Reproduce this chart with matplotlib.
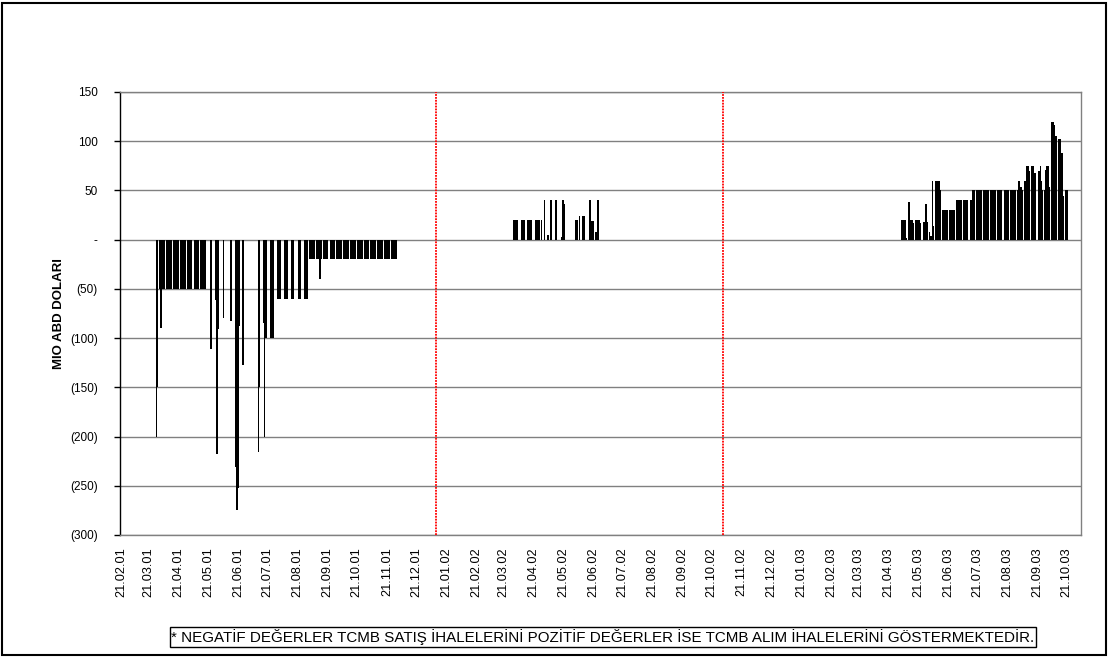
import pandas as pd
import matplotlib
matplotlib.use("Agg")
import matplotlib.pyplot as plt
import matplotlib.dates as mdates
from matplotlib.ticker import FuncFormatter, MultipleLocator
from matplotlib.patches import Rectangle

plt.rcParams['font.family'] = ['Liberation Sans', 'DejaVu Sans']

# Gunluk ihale tutarlari (mio ABD dolari), her satir bir hafta: Pzt..Cum
satis_2001_baslangic = "2001-03-26"
satis_2001 = [
    [0, 0, 0, -200, -150],
    [-50, -90, -50, -50, -50],
    [-50, -50, -50, -50, -50],
    [-50, -50, -50, -50, -50],
    [-50, -50, -50, -50, -50],
    [-50, -50, -50, -50, -50],
    [-50, -50, -50, -50, -50],
    [-50, -50, -50, -50, -50],
    [0, 0, 0, -111, 0],
    [0, -61, -218, -91, 0],
    [0, 0, -80, 0, 0],
    [0, 0, 0, -83, 0],
    [0, -231, -275, -252, -88],
    [0, -127, 0, 0, 0],
    [0, 0, 0, 0, 0],
    [0, 0, 0, -216, -150],
    [0, -85, -200, -100, -100],
    [0, 0, -100, -100, -100],
    [0, 0, -60, -60, -60],
    [0, 0, -60, -60, -60],
    [0, 0, -60, -60, -60],
    [0, 0, -60, -60, -60],
    [0, 0, -60, -60, -60],
    [-20, -20, -20, -20, -20],
    [-20, -20, -20, -40, -20],
    [-20, -20, -20, -20, -20],
    [-20, -20, -20, -20, -20],
    [-20, -20, -20, -20, -20],
    [-20, -20, -20, -20, -20],
    [-20, -20, -20, -20, -20],
    [-20, -20, -20, -20, -20],
    [-20, -20, -20, -20, -20],
    [-20, -20, -20, -20, -20],
    [-20, -20, -20, -20, -20],
    [-20, -20, -20, -20, -20],
    [-20, -20, -20, -20, -20],
]

alim_2002_baslangic = "2002-04-01"
alim_2002 = [
    [20, 20, 20, 20, 0],
    [0, 20, 20, 20, 0],
    [20, 0, 20, 20, 0],
    [0, 20, 20, 20, 20],
    [20, 0, 0, 40, 0],
    [5, 0, 0, 40, 0],
    [0, 40, 0, 0, 0],
    [3, 40, 36, 0, 0],
    [0, 0, 0, 0, 0],
    [20, 20, 20, 0, 24],
    [17, 24, 24, 0, 0],
    [0, 40, 0, 19, 19],
    [8, 0, 40, 0, 0],
]

alim_2003_baslangic = "2003-05-05"
alim_2003 = [
    [20, 20, 20, 20, 2],
    [38, 20, 20, 20, 17],
    [20, 20, 20, 20, 17],
    [0, 18, 18, 36, 18],
    [8, 4, 4, 60, 14],
    [60, 60, 0, 60, 50],
    [30, 30, 30, 30, 30],
    [30, 30, 30, 30, 30],
    [40, 40, 40, 40, 40],
    [40, 40, 40, 40, 40],
    [40, 40, 40, 50, 50],
    [50, 50, 50, 50, 50],
    [50, 50, 50, 50, 50],
    [50, 50, 50, 50, 50],
    [50, 50, 50, 50, 50],
    [50, 50, 50, 50, 50],
    [50, 50, 50, 50, 50],
    [50, 60, 54, 54, 50],
    [60, 60, 75, 75, 70],
    [75, 75, 75, 68, 68],
    [70, 70, 75, 60, 50],
    [50, 71, 75, 75, 53],
    [120, 120, 116, 105, 105],
    [102, 102, 88, 88, 44],
    [50, 50, 0, 0, 0],
]

ayrac_tarihleri = ["2002-01-10", "2002-11-02"]
not_metni = ("* NEGATİF DEĞERLER TCMB SATIŞ İHALELERİNİ POZİTİF DEĞERLER "
             "İSE TCMB ALIM İHALELERİNİ GÖSTERMEKTEDİR.")


def haftalik_seri(baslangic, haftalar):
    # haftalik tablolari tarih/deger listesine cevir
    bas = pd.Timestamp(baslangic)
    tarih, deger = [], []
    for i, hafta in enumerate(haftalar):
        for j, v in enumerate(hafta):
            if v != 0:
                tarih.append(bas + pd.Timedelta(days=7 * i + j))
                deger.append(v)
    return tarih, deger


def y_etiket(v, pos):
    if abs(v) < 1e-9:
        return "-"
    if v < 0:
        return f"({-v:.0f})"
    return f"{v:.0f}"


fig = plt.figure(figsize=(11.09, 6.57), dpi=100)
ax = fig.add_axes([120 / 1109, 1 - 535 / 657, 961 / 1109, 443 / 657])

for bas, haftalar in [(satis_2001_baslangic, satis_2001),
                      (alim_2002_baslangic, alim_2002),
                      (alim_2003_baslangic, alim_2003)]:
    t, d = haftalik_seri(bas, haftalar)
    ax.bar(t, d, width=1.8, color="black", linewidth=0, zorder=3)

for t in ayrac_tarihleri:
    ax.axvline(pd.Timestamp(t), color="red", lw=1.3, ls=(0, (1, 0.6)), zorder=4)

ax.set_ylim(-300, 150)
ax.set_xlim(pd.Timestamp("2001-02-19 12:00"), pd.Timestamp("2003-11-04 18:00"))

ax.yaxis.set_major_locator(MultipleLocator(50))
ax.yaxis.set_major_formatter(FuncFormatter(y_etiket))
ax.yaxis.grid(True, color="#808080", lw=1, zorder=1)

ax.xaxis.set_major_locator(mdates.MonthLocator(bymonthday=21))
ax.xaxis.set_major_formatter(mdates.DateFormatter("%d.%m.%y"))
plt.setp(ax.get_xticklabels(), rotation=90, ha="center", va="top")

ax.tick_params(axis="x", length=0, pad=9, labelsize=9.2)
ax.tick_params(axis="y", length=4, width=1, direction="out", pad=12, labelsize=8.5)

for k in ["top", "right", "bottom"]:
    ax.spines[k].set_color("#808080")
    ax.spines[k].set_linewidth(1)
ax.spines["left"].set_color("black")
ax.spines["left"].set_linewidth(1)

ax.set_ylabel("MIO ABD DOLARI", fontsize=9.5, fontweight="bold")
ax.yaxis.set_label_coords(-0.057, 0.5)

fig.text(603 / 1109, 1 - 637 / 657, not_metni, ha="center", va="center",
         fontsize=10.9,
         bbox=dict(boxstyle="square,pad=0.12", facecolor="white",
                   edgecolor="black", lw=1))

fig.patches.append(Rectangle((0.002, 0.003), 0.995, 0.993, transform=fig.transFigure,
                             fill=False, edgecolor="black", lw=1.5))

fig.savefig("out.png", dpi=100)
